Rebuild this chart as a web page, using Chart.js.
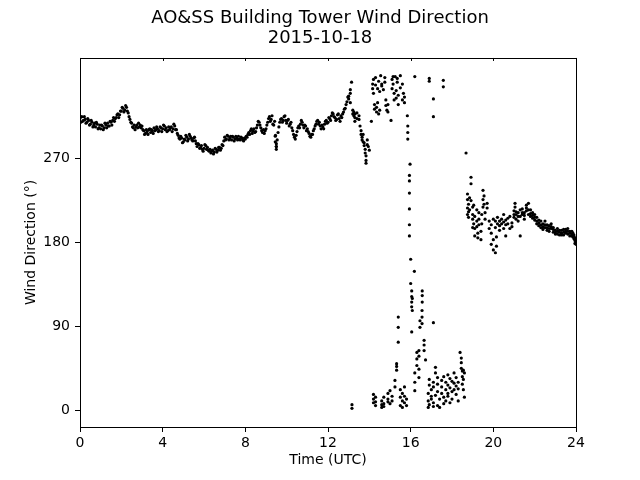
<!DOCTYPE html>
<html>
<head>
<meta charset="utf-8">
<script src="https://cdn.jsdelivr.net/npm/chart.js@4"></script>
<style>
  body { margin: 0; background: #fff; }
  #wrap { width: 640px; height: 480px; }
</style>
</head>
<body>
<div id="wrap"><canvas id="windChart" width="640" height="480"></canvas></div>
<script>
// wind direction (deg), one sample every 5 min from 00:00 to 12:55 UTC
const bandStep = 5 / 60;
const bandDir = [
  313, 315, 311, 312, 309, 311, 307, 309, 306, 304, 307, 303,
  302, 305, 303, 306, 308, 305, 309, 311, 310, 314, 318, 317,
  321, 324, 322, 325, 319, 312, 308, 303, 301, 306, 308, 306,
  305, 300, 297, 299, 301, 298, 300, 303, 301, 302, 300, 303,
  302, 305, 303, 300, 301, 304, 302, 305, 301, 295, 291, 292,
  288, 290, 293, 291, 294, 290, 292, 289, 283, 285, 282, 280,
  281, 284, 282, 278, 276, 279, 277, 280, 279, 282, 281, 284,
  293, 291, 294, 292, 290, 293, 291, 292, 294, 290, 292, 289,
  291, 293, 298, 300, 297, 302, 299, 306, 309, 303, 298, 297,
  302, 309, 315, 312, 307, 310, 283, 298, 309, 313, 311, 316,
  308, 312, 307, 303, 296, 291, 299, 305, 307, 309, 303, 305,
  302, 297, 293, 296, 302, 307, 311, 309, 302, 304, 307, 311,
  309, 313, 316, 318, 314, 312, 318, 310, 314, 320, 324, 331
];
// the in-between samples (2.5 min later) of the same band
const bandDirMid = [
  309, 310, 315, 308, 313, 306, 311, 304, 308, 309, 302, 306,
  306, 301, 308, 303, 305, 310, 306, 314, 313, 317, 314, 321,
  325, 320, 327, 321, 315, 309, 304, 306, 304, 303, 304, 303,
  301, 296, 301, 296, 302, 301, 297, 300, 304, 299, 304, 299,
  306, 301, 299, 304, 303, 299, 307, 301, 297, 292, 294, 287,
  291, 295, 289, 296, 292, 289, 293, 286, 286, 281, 284, 278,
  285, 280, 279, 280, 278, 275, 281, 277, 282, 279, 285, 289,
  290, 295, 290, 294, 294, 289, 294, 290, 291, 293, 290, 292,
  294, 296, 296, 302, 300, 298, 303, 310, 306, 300, 301, 300,
  306, 313, 310, 316, 306, 295, 290, 304, 312, 309, 315, 311,
  311, 305, 309, 300, 293, 295, 303, 303, 311, 306, 306, 300,
  299, 294, 296, 300, 305, 310, 307, 305, 306, 302, 310, 308,
  314, 311, 319, 315, 311, 317, 313, 316, 318, 323, 328, 336
];

// scattered readings: hour (UTC) and the directions seen around it
const scatTime = [
  9.45, 9.5, 13.0, 13.08, 13.14, 13.16, 13.2, 13.25, 13.3, 13.4, 13.5, 13.55,
  13.6, 13.65, 13.7, 13.75, 13.8, 13.84, 13.9, 13.95, 14.0, 14.1, 14.16, 14.2,
  14.25, 14.3, 14.35, 14.4, 14.45, 14.5, 14.55, 14.6, 14.68, 14.7, 14.75, 14.8,
  14.85, 14.9, 15.0, 15.05, 15.1, 15.15, 15.2, 15.24, 15.25, 15.3, 15.32, 15.35,
  15.4, 15.5, 15.6, 15.65, 15.7, 15.8, 15.84, 15.86, 15.94, 15.97, 16.0, 16.05,
  16.08, 16.18, 16.2, 16.3, 16.4, 16.45, 16.55, 16.56, 16.65, 16.72, 16.85, 16.9,
  17.0, 17.1, 17.2, 17.3, 17.4, 17.5, 17.58, 17.6, 17.7, 17.8, 17.9, 18.0,
  18.1, 18.2, 18.3, 18.39, 18.45, 18.5, 18.55, 18.6, 18.68
];
const scatDir = [
  [294, 288], [283, 286, 280], [334, 337], [340, 344, 330], [352], [2, 6],
  [322, 318], [316, 320], [314, 318, 310], [319, 313], [312, 316], [305],
  [300, 296], [293, 290], [296, 288], [284, 287], [280, 276], [273, 268, 265],
  [290, 285], [283], [279], [310], [345, 350], [340, 355, 12, 17, 8],
  [323, 328], [357, 349, 5, 14, 9], [320, 325], [330, 345], [353, 318], [342, 322],
  [359], [348, 350, 3, 10, 6], [344], [14, 7, 4], [357, 352], [333, 327],
  [322], [320, 328, 18, 12, 9], [21, 7], [311], [355, 345, 15, 10], [358, 350],
  [340, 333], [25, 32], [358], [335, 343], [43, 50, 47], [352, 356],
  [328, 338, 73, 89, 100], [359, 346, 5, 14, 22], [333, 350, 10, 3, 18], [340],
  [330, 336, 25, 8, 15], [5, 12], [316], [305, 298, 291],
  [252, 246, 233, 216, 199, 187], [264], [162, 136], [84, 128, 122, 116, 111],
  [120, 107], [149], [358, 21, 30, 40], [48, 55, 62], [35, 44, 58, 64], [89, 96],
  [100, 107, 93], [128, 123, 116], [64, 70, 75], [54], [3, 10, 18], [356, 353, 27, 33, 6],
  [15, 22, 12], [334, 315, 94, 4, 8, 25, 30], [40, 46, 16], [5, 20, 35, 28], [12, 3], [25, 18, 32],
  [354, 347], [14, 7, 36], [22, 30, 10], [38, 27, 18, 15], [34, 24, 8], [20, 31, 12],
  [29, 40, 22], [17, 26, 35], [10, 30, 23], [62], [51, 56, 45], [28, 36, 42],
  [33, 43, 22], [14, 40], [276]
];

// evening: veering back to the south-southwest
const lateTime = [
  18.75, 18.8, 18.85, 18.92, 19.0, 19.05, 19.1, 19.2, 19.25, 19.3, 19.4, 19.44,
  19.5, 19.55, 19.6, 19.7, 19.8, 19.9, 20.0, 20.1, 20.15, 20.2, 20.3, 20.4,
  20.5, 20.6, 20.7, 20.8, 20.9, 21.0, 21.05, 21.1, 21.2, 21.3, 21.4, 21.5,
  21.6, 21.7, 21.8, 21.9, 22.0, 22.1, 22.2, 22.3, 22.4, 22.5, 22.6, 22.7,
  22.8, 22.9, 23.0, 23.1, 23.2, 23.3, 23.4, 23.5, 23.6, 23.7, 23.8, 23.85,
  23.9, 23.95, 24.0
];
const lateDir = [
  [226, 232, 217, 210], [221, 213, 207], [215, 228], [250, 243, 225], [218, 210, 205, 196],
  [220, 200], [195, 187, 208], [203, 197, 215], [190, 185], [205, 212, 199], [183, 192],
  [200, 210], [226, 236, 218], [221, 230], [212, 205], [222, 217], [195, 203],
  [190, 178, 199], [172, 183, 205], [169, 196, 203], [186, 176], [200, 207],
  [198, 203, 193], [205, 200], [195, 210, 202], [199, 187, 204], [206, 200], [195, 208],
  [201, 197], [214, 207, 210], [222, 218], [210, 205, 213], [212, 203, 208], [187, 215, 208],
  [210, 216, 212], [212, 205, 209], [220, 214, 217], [222, 210, 215], [215, 208, 211],
  [212, 206, 209], [210, 204, 207], [207, 200, 203], [204, 198, 201], [203, 196, 199],
  [200, 194, 197], [199, 203, 196], [196, 193, 199], [198, 192, 195], [195, 200, 197],
  [194, 191, 196], [193, 189, 191], [192, 195, 189], [188, 191, 193], [193, 190, 188],
  [191, 188, 194], [194, 190, 192], [189, 192, 195], [190, 187, 192], [192, 189, 187],
  [186, 190], [184, 188, 186], [182, 185, 179], [180, 178, 183]
];

const xTicks = [0, 4, 8, 12, 16, 20, 24];
const yTicks = [0, 90, 180, 270];

const points = [];
bandDir.forEach(function (d, i) {
  points.push({ x: i * bandStep, y: d });
  points.push({ x: (i + 0.5) * bandStep, y: bandDirMid[i] });
});
scatTime.forEach(function (t, i) {
  scatDir[i].forEach(function (d) { points.push({ x: t, y: d }); });
});
lateTime.forEach(function (t, i) {
  lateDir[i].forEach(function (d) { points.push({ x: t, y: d }); });
});

// matplotlib-style frame: box round the plot and small inward ticks on top
const framePlugin = {
  id: "frame",
  afterDraw: function (chart) {
    const a = chart.chartArea;
    const ctx = chart.ctx;
    const xs = chart.scales.x;
    ctx.save();
    ctx.strokeStyle = "#000";
    ctx.lineWidth = 1;
    ctx.strokeRect(Math.round(a.left) + 0.5, Math.round(a.top) + 0.5,
      Math.round(a.right - a.left), Math.round(a.bottom - a.top));
    ctx.beginPath();
    xTicks.forEach(function (v) {
      const px = Math.round(xs.getPixelForValue(v)) + 0.5;
      ctx.moveTo(px, a.top);
      ctx.lineTo(px, a.top + 3);
    });
    ctx.stroke();
    ctx.restore();
  }
};

const font = "'DejaVu Sans', sans-serif";

new Chart(document.getElementById("windChart"), {
  type: "scatter",
  data: {
    datasets: [{
      data: points,
      backgroundColor: "#000",
      borderWidth: 0,
      pointRadius: 1.6,
      pointHoverRadius: 1.6
    }]
  },
  options: {
    responsive: false,
    animation: false,
    layout: { padding: 0 },
    plugins: {
      legend: { display: false },
      tooltip: { enabled: false },
      title: {
        display: true,
        text: ["AO&SS Building Tower Wind Direction", "2015-10-18"],
        color: "#000",
        font: { family: font, size: 18, weight: "normal", lineHeight: 1.11 },
        padding: { top: 8, bottom: 10 }
      }
    },
    scales: {
      x: {
        type: "linear",
        min: 0,
        max: 24,
        afterBuildTicks: function (s) { s.ticks = xTicks.map(function (v) { return { value: v }; }); },
        afterFit: function (s) { s.height = 53; },
        border: { display: false },
        grid: { drawOnChartArea: false, drawTicks: true, tickLength: 5, color: "#000" },
        ticks: { color: "#000", padding: 3, maxRotation: 0, font: { family: font, size: 14 } },
        title: {
          display: true,
          text: "Time (UTC)",
          color: "#000",
          font: { family: font, size: 14 },
          padding: { top: 0, bottom: 11 }
        }
      },
      y: {
        type: "linear",
        min: -18,
        max: 378,
        afterBuildTicks: function (s) { s.ticks = yTicks.map(function (v) { return { value: v }; }); },
        afterFit: function (s) { s.width = 80; },
        border: { display: false },
        grid: { drawOnChartArea: false, drawTicks: true, tickLength: 5, color: "#000" },
        ticks: { color: "#000", padding: 5, font: { family: font, size: 14 } },
        title: {
          display: true,
          text: "Wind Direction (°)",
          color: "#000",
          font: { family: font, size: 14 },
          padding: { top: 23, bottom: 0 }
        }
      },
      // empty right-hand strip so the title centres on the whole figure
      yRight: {
        type: "linear",
        position: "right",
        afterFit: function (s) { s.width = 64; },
        border: { display: false },
        grid: { display: false },
        ticks: { display: false }
      }
    }
  },
  plugins: [framePlugin]
});
</script>
</body>
</html>
